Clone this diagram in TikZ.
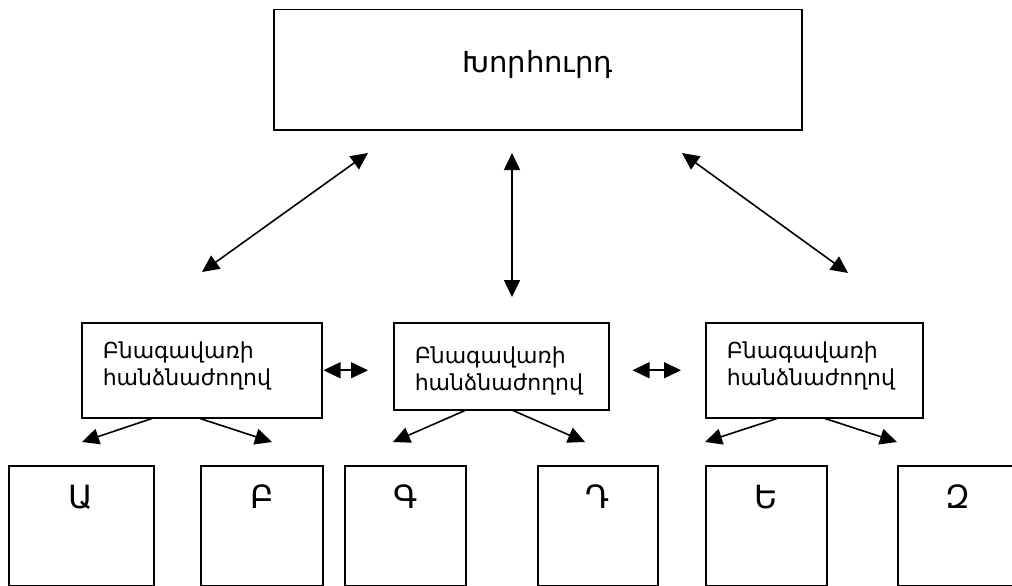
\documentclass[tikz,border=0pt]{standalone}
\usepackage{fontspec}
\setmainfont{DejaVu Sans}
\usepackage{tikz}
\usetikzlibrary{arrows.meta}
\tikzset{
  frame/.style={draw, line width=1.5pt, anchor=north west, inner sep=0pt},
  comm/.style={frame, align=left, inner xsep=21pt, text height=36pt, text depth=59pt,
    font=\fontsize{22}{27}\selectfont},
  unit/.style={frame, text height=43pt, text depth=77pt, font=\fontsize{32}{36}\selectfont},
  link/.style={line width=1.6pt, {Triangle[length=17pt,width=16pt]}-{Triangle[length=17pt,width=16pt]}},
  sublink/.style={line width=1.6pt, -{Triangle[length=17pt,width=16pt]}}
}

\begin{document}
\begin{tikzpicture}[x=1pt,y=-1pt]
  \useasboundingbox (0,0) rectangle (1012,586);

  \node[frame, minimum width=528, text height=63pt, text depth=57pt,
    font=\fontsize{29}{32}\selectfont] (council) at (273,9) {\hbox to 528pt{\hss Խորհուրդ\hss}};

  \node[comm, text width=198pt] (com1) at (81,322) {Բնագավառի\\հանձնաժողով};
  \node[comm, text width=173pt, text height=41pt, text depth=46pt] (com2) at (393,322) {Բնագավառի\\հանձնաժողով};
  \node[comm, text width=175pt] (com3) at (705,322) {Բնագավառի\\հանձնաժողով};

  \node[unit, minimum width=145] (ua) at (8,465) {Ա};
  \node[unit, minimum width=122] (ub) at (200,465) {Բ};
  \node[unit, minimum width=121] (ug) at (344,465) {Գ};
  \node[unit, minimum width=120] (ud) at (537,465) {Դ};
  \node[unit, minimum width=121] (ue) at (705,465) {Ե};
  \node[unit, minimum width=120] (uz) at (897,465) {Զ};

  \coordinate (l1) at (202,272); \coordinate (l2) at (368,153);
  \coordinate (m1) at (512,297); \coordinate (m2) at (512,153);
  \coordinate (r1) at (848,273); \coordinate (r2) at (682,153);
  \draw[link] (l1) -- (l2);
  \draw[link] (m1) -- (m2);
  \draw[link] (r1) -- (r2);

  \draw[link, shorten <=1pt, shorten >=25pt] (com1.east) -- (com1.east -| com2.west);
  \draw[link, shorten <=23pt, shorten >=24pt] (com2.east |- com3.west) -- (com3.west);

  \coordinate (ta) at (82,442);  \coordinate (tb) at (272,442);
  \coordinate (tg) at (393,442); \coordinate (td) at (585,442);
  \coordinate (te) at (705,442); \coordinate (tz) at (897,442);
  \draw[sublink] ([xshift=71pt]com1.south west) -- (ta);
  \draw[sublink] ([xshift=119pt]com1.south west) -- (tb);
  \draw[sublink] ([xshift=72pt]com2.south west) -- (tg);
  \draw[sublink] ([xshift=120pt]com2.south west) -- (td);
  \draw[sublink] ([xshift=72pt]com3.south west) -- (te);
  \draw[sublink] ([xshift=120pt]com3.south west) -- (tz);
\end{tikzpicture}
\end{document}
